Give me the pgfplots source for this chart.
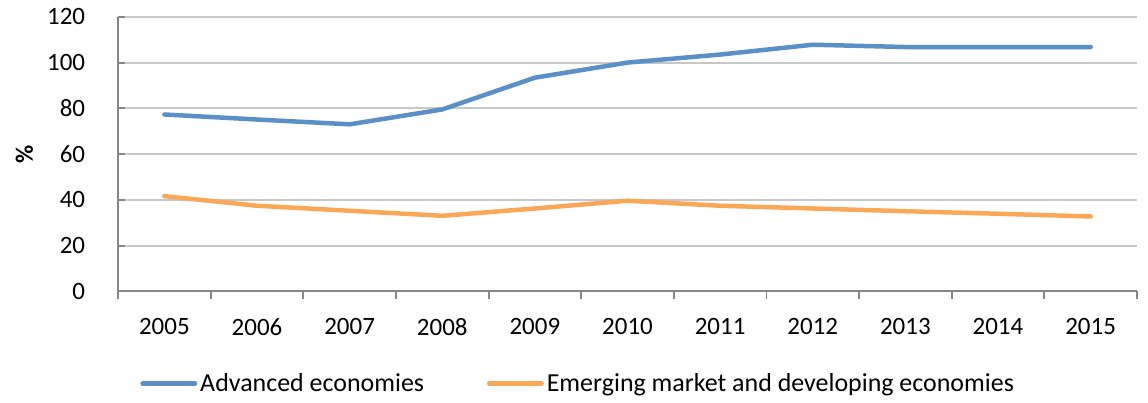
\documentclass[border={4.5pt 0pt 5pt 1pt}]{standalone}
\usepackage{pgfplots}
\pgfplotsset{compat=1.18}
\usepackage{fontspec}
\setmainfont{Carlito}
\definecolor{advblue}{RGB}{91,144,199}
\definecolor{emorange}{RGB}{250,167,88}
\definecolor{axgray}{RGB}{134,134,134}
\definecolor{gridgray}{RGB}{200,200,200}

\begin{document}
\begin{tikzpicture}
\begin{axis}[
    scale only axis,
    width=510.5pt,
    height=137.5pt,
    xmin=2004.5, xmax=2015.5,
    ymin=0, ymax=120,
    xtick={2005,...,2015},
    minor xtick={2004.5,2005.5,...,2015.5},
    ytick={0,20,...,120},
    x tick label style={/pgf/number format/1000 sep={}, yshift=-6.5pt},
    y tick label style={anchor=east, xshift=-13pt},
    /pgf/number format/assume math mode=true,
    font=\fontsize{12.5}{14}\selectfont,
    axis x line*=bottom,
    axis y line*=left,
    axis line style={axgray, line width=1pt},
    major x tick style={draw=none},
    minor x tick style={axgray, line width=1pt},
    minor tick length=4pt,
    major tick length=3.5pt,
    ytick style={axgray, line width=1pt},
    xtick align=outside,
    ytick align=inside,
    ymajorgrids=true,
    grid style={gridgray, line width=1pt},
    ylabel={\textbf{\%}},
    ylabel style={at={(axis description cs:-0.092,0.5)}, anchor=center},
    legend columns=2,
    legend style={draw=none, at={(0.452,-0.337)}, anchor=center,
        font=\fontsize{13}{15}\selectfont,
        nodes={inner xsep=1.5pt},
        /tikz/every even column/.append style={column sep=30pt}},
    legend image code/.code={\draw[#1, line width=2.5pt] (0pt,0pt) -- (26pt,0pt);},
]
\addplot[advblue, line width=2.25pt, line join=round, line cap=round] coordinates {
(2005,77.3) (2006,75.1) (2007,73.0) (2008,79.5) (2009,93.4) (2010,100.0)
(2011,103.5) (2012,107.8) (2013,106.8) (2014,106.8) (2015,106.8)};
\addlegendentry{Advanced economies}
\addplot[emorange, line width=2.25pt, line join=round, line cap=round] coordinates {
(2005,41.6) (2006,37.4) (2007,35.2) (2008,33.0) (2009,36.2) (2010,39.6)
(2011,37.4) (2012,36.2) (2013,35.0) (2014,33.9) (2015,32.7)};
\addlegendentry{Emerging market and developing economies}
\end{axis}
\end{tikzpicture}
\end{document}
